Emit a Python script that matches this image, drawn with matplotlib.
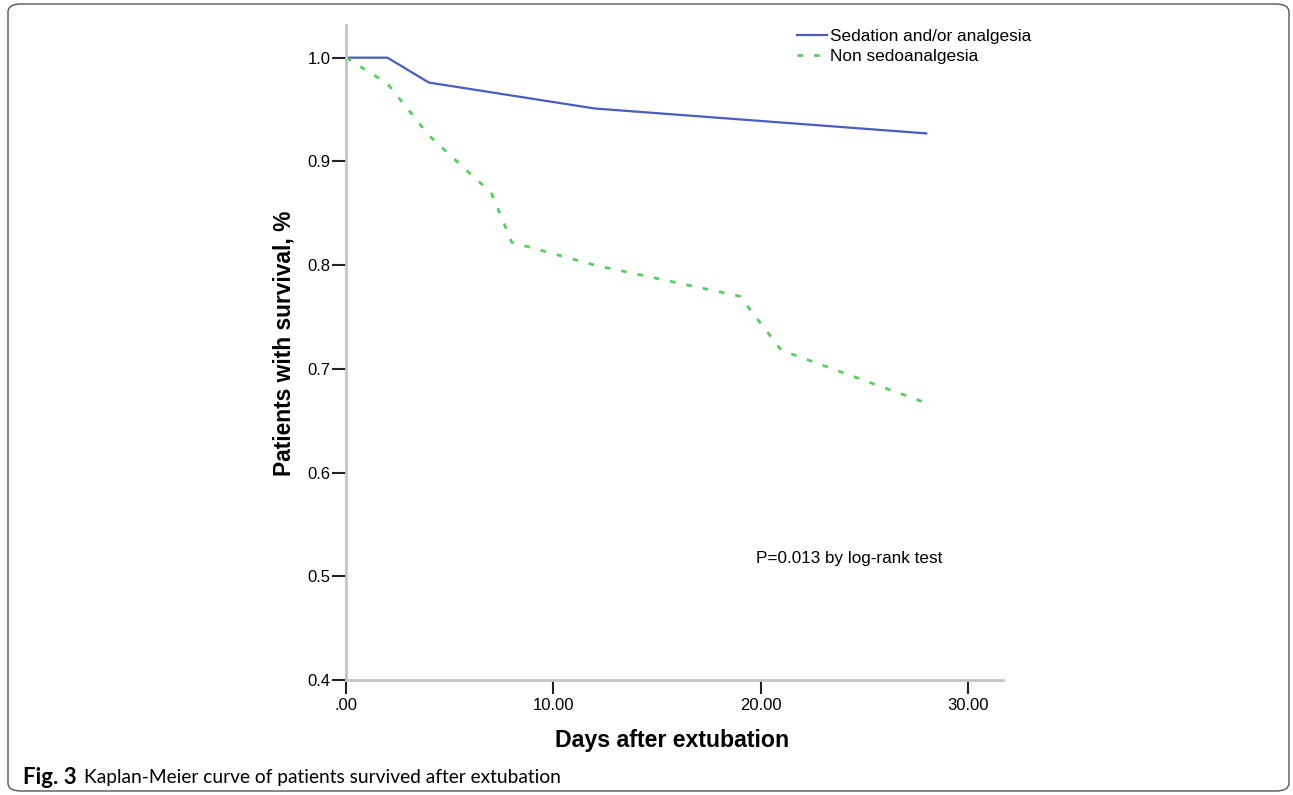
import matplotlib
matplotlib.use("Agg")
import matplotlib.pyplot as plt
from matplotlib.patches import FancyBboxPatch

# Data
sed_days = [0, 2, 4, 12, 28]
sed_surv = [1.0, 1.0, 0.976, 0.951, 0.927]
non_days = [0, 2, 4, 6, 7, 8, 12, 19, 21, 28]
non_surv = [1.0, 0.975, 0.925, 0.888, 0.870, 0.822, 0.800, 0.770, 0.718, 0.667]
xticks = [0, 10, 20, 30]
xtick_labels = [".00", "10.00", "20.00", "30.00"]
yticks = [0.4, 0.5, 0.6, 0.7, 0.8, 0.9, 1.0]
series_names = ["Sedation and/or analgesia", "Non sedoanalgesia"]

plt.rcParams['font.family'] = ["Liberation Sans", "DejaVu Sans"]

W, H = 1293, 795
fig = plt.figure(figsize=(W / 100, H / 100), dpi=100)
ax = fig.add_axes([346 / W, 1 - 680 / H, 657 / W, 655 / H])

ax.plot(sed_days, sed_surv, color="#4a5cc0", lw=1.6, label=series_names[0])
ax.plot(non_days, non_surv, color="#4fd35c", lw=2.0, ls=(0, (2, 4)), label=series_names[1])

ax.set_xlim(0, 31.7)
ax.set_ylim(0.4, 1.0315)
ax.set_xticks(xticks)
ax.set_xticklabels(xtick_labels, fontsize=12)
ax.set_yticks(yticks)
ax.set_yticklabels([f"{v:.1f}" for v in yticks], fontsize=12)
for s in ["top", "right"]:
    ax.spines[s].set_visible(False)
for s in ["left", "bottom"]:
    ax.spines[s].set_color("#c4c4c4")
    ax.spines[s].set_linewidth(2)
ax.tick_params(axis="both", direction="out", length=10, width=1.5, color="#222222", pad=3)
ax.tick_params(axis="y", pad=1)

xl = ax.set_xlabel("Days after extubation", fontsize=16.6, fontweight="bold")
ax.xaxis.set_label_coords((672 - 346) / 657, -(740 - 680) / 655)
xl.set_va("center")
yl = ax.set_ylabel("Patients with survival, %", fontsize=16, fontweight="bold")
ax.yaxis.set_label_coords((284 - 346) / 657, (680 - 343) / 655)
yl.set_va("center")

ptxt = ax.text(24.3, 0.517, "P=0.013 by log-rank test", fontsize=12.4, ha="center", va="center")

leg = ax.legend(loc="upper left", bbox_to_anchor=(797 / W, 1 - 29 / H), bbox_transform=fig.transFigure,
                frameon=False, fontsize=12.4, handlelength=1.75, handletextpad=0.18,
                labelspacing=0.3, borderaxespad=0, borderpad=0)

# Caption
cap_y = 1 - 777 / H
c1 = fig.text(23 / W, cap_y, "Fig. 3", fontsize=14, fontweight="bold", va="center", ha="left",
              family=["Lato", "DejaVu Sans"])
c2 = fig.text(84 / W, cap_y, "Kaplan-Meier curve of patients survived after extubation",
              fontsize=14, va="center", ha="left", family=["Lato", "DejaVu Sans"])

# fit text widths to the reference
fig.canvas.draw()
r = fig.canvas.get_renderer()
def fit(t, target, vertical=False):
    bb = t.get_window_extent(r)
    cur = bb.height if vertical else bb.width
    t.set_fontsize(t.get_fontsize() * target / cur)
fit(c1, 54)
fit(c2, 478)
fit(xl, 234)
fit(yl, 265, vertical=True)
fit(ptxt, 187)

# Rounded border
border = FancyBboxPatch((8 / W, 4 / H), 1 - 12 / W, 1 - 8 / H,
                        boxstyle="round,pad=0,rounding_size=0.01",
                        transform=fig.transFigure, fill=False, edgecolor="#555555", lw=1.0)
fig.patches.append(border)

fig.savefig("out.png", dpi=100)
